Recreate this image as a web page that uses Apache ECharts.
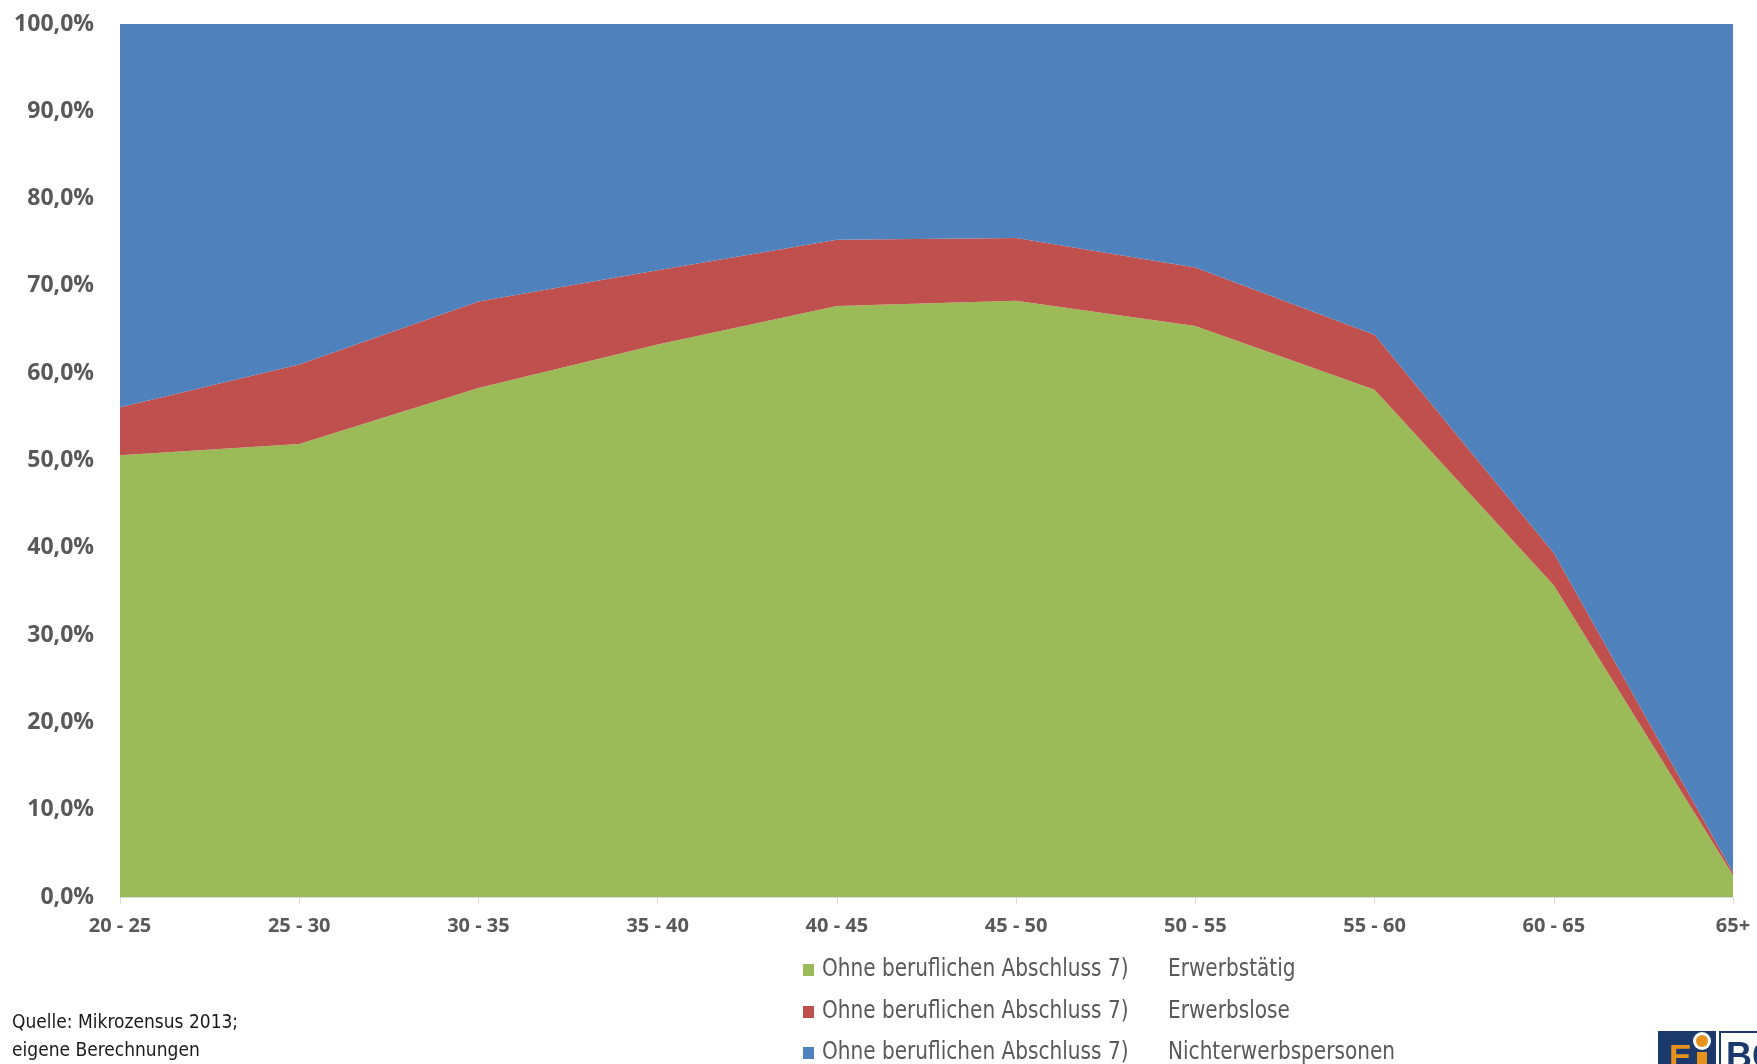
<!DOCTYPE html>
<html>
<head>
<meta charset="utf-8">
<script src="https://cdn.jsdelivr.net/npm/echarts@6/dist/echarts.min.js"></script>
<style>
  html, body { margin: 0; padding: 0; background: #fff; }
  #chart { width: 1757px; height: 1064px; }
</style>
</head>
<body>
<div id="chart"></div>
<script>
// Age groups (x axis)
const categories = ['20 - 25', '25 - 30', '30 - 35', '35 - 40', '40 - 45', '45 - 50', '50 - 55', '55 - 60', '60 - 65', '65+'];
// Shares in percent, stacked to 100 %
const erwerbstaetig = [50.6, 51.9, 58.3, 63.3, 67.7, 68.3, 65.4, 58.1, 35.7, 2.5];
const erwerbslose   = [5.5, 9.1, 9.9, 8.5, 7.6, 7.2, 6.7, 6.3, 3.7, 0.3];
const nichterwerbspersonen = [43.9, 39.0, 31.8, 28.2, 24.7, 24.5, 27.9, 35.6, 60.6, 97.2];
// Y axis ticks
const yTicks = [0, 10, 20, 30, 40, 50, 60, 70, 80, 90, 100];

const seriesNames = ['Erwerbstätig', 'Erwerbslose', 'Nichterwerbspersonen'];
const seriesData = [erwerbstaetig, erwerbslose, nichterwerbspersonen];
const colors = ['#9BBB59', '#C0504D', '#4F81BD'];
const groupLabel = 'Ohne beruflichen Abschluss 7)';

const narrow = "'DejaVu Sans Condensed', 'Liberation Sans', sans-serif";
const axisFont = "'Open Sans', 'Liberation Sans', sans-serif";

// Legend rows: colour square, group label, status label (condensed type)
const legendLeft = 803;
const legendRows = [970, 1012, 1053];
const squeeze = 0.93;
const legendGraphics = [];
seriesNames.forEach((name, i) => {
  legendGraphics.push({
    type: 'rect',
    shape: { x: legendLeft, y: legendRows[i] - 6, width: 11, height: 12 },
    style: { fill: colors[i] }
  });
  legendGraphics.push({
    type: 'group',
    x: legendLeft + 19, y: legendRows[i], scaleX: squeeze,
    children: [
      { type: 'text', x: 0, y: 0, style: { text: groupLabel, fill: '#595959', fontSize: 24, fontFamily: narrow, verticalAlign: 'middle' } },
      { type: 'text', x: (1168 - legendLeft - 19) / squeeze, y: 0, style: { text: name, fill: '#595959', fontSize: 24, fontFamily: narrow, verticalAlign: 'middle' } }
    ]
  });
});

const chart = echarts.init(document.getElementById('chart'));
chart.setOption({
  animation: false,
  color: colors,
  textStyle: { fontFamily: narrow },
  grid: { left: 120, right: 24, top: 24, bottom: 167 },
  xAxis: {
    type: 'category',
    data: categories,
    boundaryGap: false,
    axisLine: { lineStyle: { color: '#d9d9d9', width: 1 } },
    axisTick: { show: true, length: 7, lineStyle: { color: '#d9d9d9' } },
    axisLabel: { color: '#595959', fontSize: 20, fontWeight: 'bold', fontFamily: axisFont, margin: 19 },
    splitLine: { show: false }
  },
  yAxis: {
    type: 'value',
    min: yTicks[0],
    max: yTicks[yTicks.length - 1],
    interval: 10,
    axisLine: { show: false },
    axisTick: { show: false },
    splitLine: { show: false },
    axisLabel: {
      color: '#595959', fontSize: 23, fontWeight: 'bold', fontFamily: axisFont, margin: 26,
      formatter: v => v.toFixed(1).replace('.', ',') + '%'
    }
  },
  series: seriesNames.map((name, i) => ({
    name: name,
    type: 'line',
    stack: 'total',
    data: seriesData[i],
    symbol: 'none',
    lineStyle: { width: 0 },
    areaStyle: { color: colors[i], opacity: 1 },
    itemStyle: { color: colors[i] }
  })),
  graphic: legendGraphics.concat([
    {
      type: 'text', left: 12, top: 1009,
      style: {
        text: 'Quelle: Mikrozensus 2013;\neigene Berechnungen',
        fill: '#1a1a1a', fontSize: 19, lineHeight: 28, fontFamily: narrow
      }
    },
    // logo, cut off at the lower edge
    { type: 'rect', shape: { x: 1658, y: 1031, width: 58, height: 40 }, style: { fill: '#1B3A6B' } },
    { type: 'circle', shape: { cx: 1702, cy: 1041, r: 9 }, style: { fill: '#fff' } },
    { type: 'circle', shape: { cx: 1702, cy: 1041, r: 6 }, style: { fill: '#E8921E' } },
    { type: 'rect', shape: { x: 1697, y: 1052, width: 10, height: 20 }, style: { fill: '#E8921E' } },
    { type: 'text', x: 1669, y: 1042, style: { text: 'E', fill: '#E8921E', fontSize: 34, fontWeight: 'bold', fontFamily: "'Liberation Sans', sans-serif" } },
    { type: 'rect', shape: { x: 1719, y: 1031, width: 2, height: 40 }, style: { fill: '#1B3A6B' } },
    { type: 'rect', shape: { x: 1719, y: 1031, width: 40, height: 2 }, style: { fill: '#1B3A6B' } },
    { type: 'text', x: 1726, y: 1040, style: { text: 'BG', fill: '#1B3A6B', fontSize: 36, fontWeight: 'bold', fontFamily: "'Liberation Sans', sans-serif" } }
  ])
});
</script>
</body>
</html>
